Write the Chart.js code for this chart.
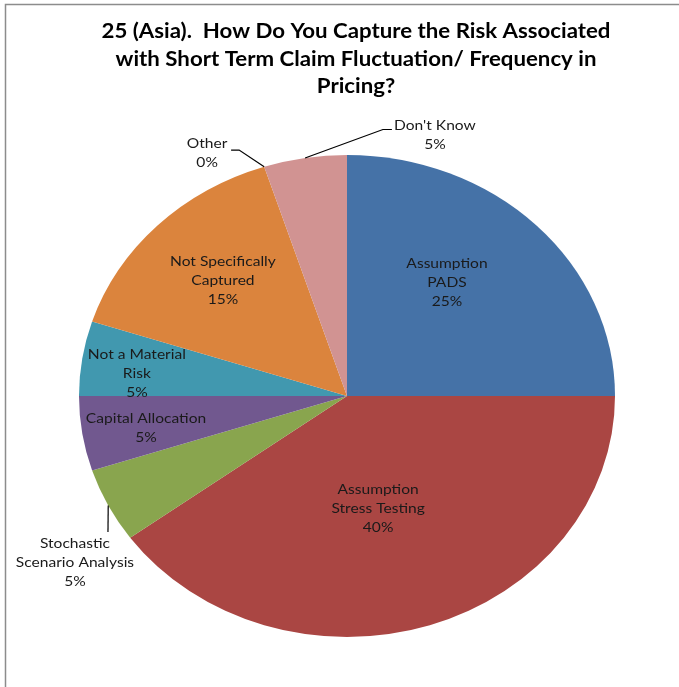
<!DOCTYPE html>
<html>
<head>
<meta charset="utf-8">
<title>Short Term Claim Fluctuation Risk (Asia)</title>
<script src="https://cdn.jsdelivr.net/npm/chart.js@4.4.1/dist/chart.umd.min.js"></script>
<style>
  html, body { margin: 0; padding: 0; background: #fff; }
  canvas { display: block; }
</style>
</head>
<body>
<canvas id="pie-chart" width="679" height="687"></canvas>
<script>
// Survey answers, starting at 12 o'clock and going clockwise
const categories = ['Assumption PADS', 'Assumption Stress Testing', 'Stochastic Scenario Analysis',
    'Capital Allocation', 'Not a Material Risk', 'Not Specifically Captured', 'Other', "Don't Know"];
const shares = [25, 40, 5, 5, 5, 15, 0, 5];

// How each data label is broken into lines
const labelLines = [
    ['Assumption', 'PADS'],
    ['Assumption', 'Stress Testing'],
    ['Stochastic', 'Scenario Analysis'],
    ['Capital Allocation'],
    ['Not a Material', 'Risk'],
    ['Not Specifically', 'Captured'],
    ['Other'],
    ["Don't Know"]
];

const titleLines = [
    '25 (Asia).  How Do You Capture the Risk Associated',
    'with Short Term Claim Fluctuation/ Frequency in',
    'Pricing?'
];

const sliceColors = ['#4572A7', '#AA4643', '#89A54E', '#71588F', '#4198AF', '#DB843D', '#93A9CF', '#D19392'];

// Label centres, in units of the pie radius measured from its centre
const labelOffsets = [
    [0.373, -0.469], [0.116, 0.465], [-1.015, 0.689], [-0.750, 0.131],
    [-0.784, -0.095], [-0.463, -0.481], [-0.522, -1.008], [0.328, -1.081]
];
// Leader lines for the labels sitting outside the pie: start and elbow, relative to the label centre
const leaders = {
    2: [[33, -30], [33, -30]],
    6: [[24, -3], [32, -3]],
    7: [[-43, -6], [-52, -6]]
};

// The whole chart is a little wider than it is tall, text included
const stretchX = 268 / 241;
const LABEL_FONT = '14px Lato, "Open Sans", sans-serif';
const TITLE_FONT = 'bold 20px Lato, "Open Sans", sans-serif';
const LINE_HEIGHT = 19;

function wideText(ctx, text, x, y) {
    ctx.save();
    ctx.translate(x, y);
    ctx.scale(stretchX, 1);
    ctx.fillText(text, 0, 0);
    ctx.restore();
}

const ellipsePlugin = {
    id: 'ellipse',
    beforeDatasetsDraw(chart) {
        const arc = chart.getDatasetMeta(0).data[0];
        const ctx = chart.ctx;
        ctx.save();
        ctx.translate(arc.x, 0);
        ctx.scale(stretchX, 1);
        ctx.translate(-arc.x, 0);
    },
    afterDatasetsDraw(chart) {
        chart.ctx.restore();
    }
};

const decorPlugin = {
    id: 'decor',
    beforeDraw(chart) {
        const ctx = chart.ctx;
        ctx.save();
        ctx.fillStyle = '#fff';
        ctx.fillRect(0, 0, chart.width, chart.height);
        // frame round the chart
        ctx.strokeStyle = '#8c8c8c';
        ctx.lineWidth = 1.5;
        ctx.beginPath();
        ctx.moveTo(5.5, chart.height);
        ctx.lineTo(5.5, 4.5);
        ctx.lineTo(chart.width, 4.5);
        ctx.stroke();
        ctx.restore();
    },
    afterDraw(chart) {
        const ctx = chart.ctx;
        const arcs = chart.getDatasetMeta(0).data;
        const cx = arcs[0].x, cy = arcs[0].y;
        const ry = arcs[0].outerRadius, rx = ry * stretchX;

        ctx.save();
        ctx.textAlign = 'center';
        ctx.textBaseline = 'middle';

        // title
        ctx.fillStyle = '#000';
        ctx.font = TITLE_FONT;
        titleLines.forEach((line, i) => wideText(ctx, line, 356, 32 + i * 27.5));

        // data labels
        ctx.font = LABEL_FONT;
        ctx.fillStyle = '#1a1a1a';
        arcs.forEach((arc, i) => {
            const lx = cx + labelOffsets[i][0] * rx;
            const ly = cy + labelOffsets[i][1] * ry;
            const lines = labelLines[i].concat([shares[i] + '%']);
            const top = ly - (lines.length - 1) * LINE_HEIGHT / 2;
            lines.forEach((line, j) => wideText(ctx, line, lx, top + j * LINE_HEIGHT));

            if (leaders[i]) {
                const mid = (arc.startAngle + arc.endAngle) / 2;
                const ex = cx + Math.cos(mid) * rx;
                const ey = cy + Math.sin(mid) * ry;
                const [start, elbow] = leaders[i];
                ctx.strokeStyle = '#000';
                ctx.lineWidth = 1.2;
                ctx.beginPath();
                ctx.moveTo(lx + start[0], ly + start[1]);
                ctx.lineTo(lx + elbow[0], ly + elbow[1]);
                ctx.lineTo(ex, ey);
                ctx.stroke();
            }
        });
        ctx.restore();
    }
};

new Chart(document.getElementById('pie-chart'), {
    type: 'pie',
    data: {
        labels: categories,
        datasets: [{
            data: shares,
            backgroundColor: sliceColors,
            borderWidth: 0,
            clip: false
        }]
    },
    options: {
        responsive: false,
        animation: false,
        layout: {
            padding: { top: 155, bottom: 50, left: 106, right: 91 }
        },
        plugins: {
            legend: { display: false },
            tooltip: { enabled: false },
            title: { display: false }
        }
    },
    plugins: [ellipsePlugin, decorPlugin]
});
</script>
</body>
</html>
